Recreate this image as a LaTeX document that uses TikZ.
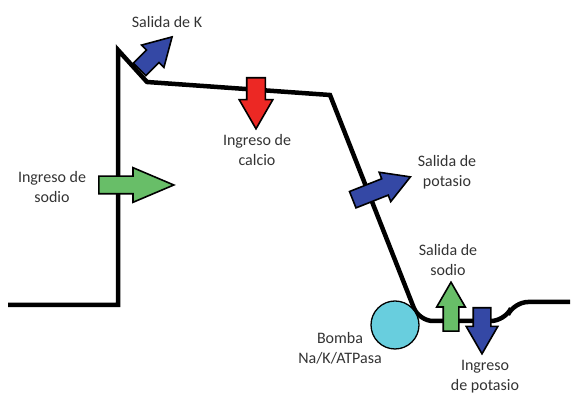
\documentclass[tikz,border=0pt]{standalone}
\usepackage{fontspec}
\setmainfont{Carlito}
\usepackage{tikz}
\usetikzlibrary{positioning,shapes.arrows}
\definecolor{ionblue}{RGB}{52,72,165}
\definecolor{ionred}{RGB}{236,40,36}
\definecolor{iongreen}{RGB}{104,190,104}
\definecolor{pumpcyan}{RGB}{104,206,222}
\tikzset{membrane/.style={draw, line width=4.5pt, line join=miter}}
\tikzset{flux/.style={single arrow, draw=black, line width=1.6pt, inner xsep=0pt, inner ysep=8pt,
	single arrow head extend=8pt, single arrow tip angle=60, anchor=tail}}
\tikzset{lbl/.style={align=center, inner sep=0pt, text=black!80,
	font=\fontsize{16}{20}\selectfont}}

\begin{document}
\begin{tikzpicture}[x=1pt,y=1pt]
\useasboundingbox (0,0) rectangle (573,395);
	\coordinate (rest) at (8,90);
	\coordinate (upstart) at (118,90);
	\coordinate (peak) at (118,345);
	\coordinate (notch) at (147,313);
	\coordinate (plateau) at (330,300);
	\coordinate (trough) at (419,74);
	\coordinate (troughend) at (505,74);
	\coordinate (riseend) at (514,93);
	\coordinate (restend) at (570,93);
\draw[membrane] (rest) -- (upstart) -- (peak) -- (notch) -- (plateau)
	[rounded corners=14pt] -- (trough) -- (troughend) -- (riseend) -- (restend);

\node[draw=black, line width=1.3pt, fill=pumpcyan, circle, minimum size=48pt, inner sep=0pt]
	(pump) at (395,70) {};

\node[flux, fill=iongreen, minimum height=75pt, single arrow head extend=8.5pt, single arrow tip angle=46]
	(sodioIn) at (98,210) {};
\node[flux, fill=ionred, minimum height=51pt, inner ysep=8.5pt, single arrow head extend=7.5pt,
	rotate=-90] (calcioIn) at (256,318) {};
\node[flux, fill=ionblue, minimum height=46pt, single arrow head extend=7pt,
	rotate=45] (kOut) at (139,325) {};
\node[flux, fill=ionblue, minimum height=62pt, single arrow head extend=7pt,
	rotate=21.6] (potasioOut) at (352,195) {};
\node[flux, fill=iongreen, minimum height=49pt, inner ysep=7pt, single arrow head extend=6.5pt,
	rotate=90] (sodioOut) at (451,63) {};
\node[flux, fill=ionblue, minimum height=46pt, single arrow head extend=7pt,
	rotate=-90] (potasioIn) at (482,88) {};

\begin{scope}[every node/.style={lbl}]
	\node at (167,373) (kLbl) {Salida de K};
	\node at (257,245) (calcioLbl) {Ingreso de\\calcio};
	\node at (52,208) (sodioInLbl) {Ingreso de\\sodio};
	\node at (447,223) (potasioOutLbl) {Salida de\\potasio};
	\node at (448,135) (sodioOutLbl) {Salida de\\sodio};
	\node at (340,47) (pumpLbl) {Bomba\\Na/K/ATPasa};
	\node at (485,18) (potasioInLbl) {Ingreso\\de potasio};
\end{scope}
\end{tikzpicture}
\end{document}
